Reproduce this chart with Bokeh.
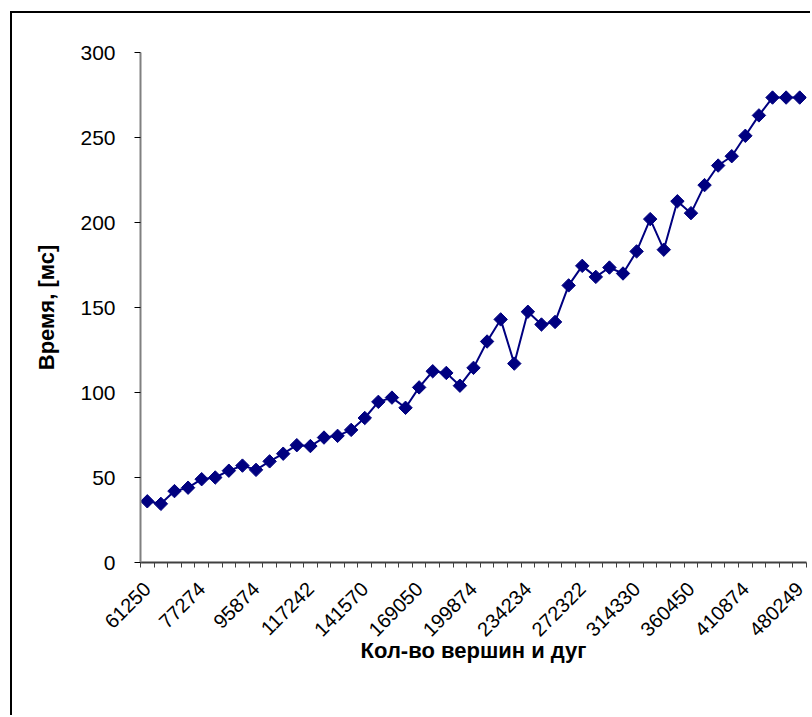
import math
from bokeh.plotting import figure
from bokeh.models import FixedTicker, Range1d, ColumnDataSource
from bokeh.embed import file_html
from bokeh.resources import INLINE

# x-axis tick labels (every 4th category is labelled)
tick_labels = ["61250", "77274", "95874", "117242", "141570", "169050", "199874",
               "234234", "272322", "314330", "360450", "410874", "480249"]
label_step = 4

# time, ms (49 measurements)
times = [36, 34.5, 42, 44, 49, 50, 54, 57, 54.5, 59.5,
         64, 69, 68.5, 73.5, 74.5, 78, 85, 94.5, 97, 91,
         103, 112.5, 111.5, 104, 114.5, 130, 143, 117, 147.5, 140,
         141.5, 163, 174.5, 168, 173.5, 170, 183, 202, 184, 212.5,
         205.5, 222, 233.5, 239, 251, 263, 273.5, 273.5, 273.5]

y_ticks = [0, 50, 100, 150, 200, 250, 300]

n = len(times)
idx = list(range(n))
src = ColumnDataSource(dict(x=idx, y=times))

FONT = "Liberation Sans"
NAVY = "#000080"

p = figure(width=800, height=704, output_backend="svg", toolbar_location=None,
           x_range=Range1d(-0.5, n - 0.5), y_range=Range1d(0, 300),
           min_border_left=128, min_border_right=6, min_border_top=39, min_border_bottom=155)
p.styles = {"margin-left": "10px", "margin-top": "11px",
            "border-left": "2px solid black", "border-top": "2px solid black"}
p.outline_line_color = None
p.xgrid.visible = False
p.ygrid.visible = False
p.background_fill_color = "white"
p.border_fill_color = "white"

p.line("x", "y", source=src, line_color=NAVY, line_width=2)
p.scatter("x", "y", source=src, marker="square", angle=math.pi / 4, size=9.5,
          fill_color=NAVY, line_color=NAVY)

# y axis
ya = p.yaxis[0]
ya.ticker = FixedTicker(ticks=y_ticks)
ya.axis_line_color = "#808080"
ya.axis_line_width = 2
ya.major_tick_line_color = "black"
ya.major_tick_out = 6
ya.major_tick_in = 0
ya.minor_tick_out = 0
ya.minor_tick_in = 0
ya.major_label_text_font = FONT
ya.major_label_text_font_size = "21px"
ya.major_label_text_color = "black"
ya.major_label_standoff = 19
ya.axis_label = "Время, [мс]"
ya.axis_label_text_font = FONT
ya.axis_label_text_font_size = "22px"
ya.axis_label_text_font_style = "bold"
ya.axis_label_text_color = "black"
ya.axis_label_standoff = 18

# x axis
xa = p.xaxis[0]
major = [i * label_step for i in range(len(tick_labels))]
xa.ticker = FixedTicker(ticks=major, minor_ticks=[i - 0.5 for i in range(n + 1)])
xa.major_label_overrides = {m: lab for m, lab in zip(major, tick_labels)}
xa.axis_line_color = "#404040"
xa.axis_line_width = 2
xa.major_tick_out = 0
xa.major_tick_in = 0
xa.minor_tick_out = 5
xa.minor_tick_in = 0
xa.minor_tick_line_color = "#404040"
xa.major_label_orientation = math.pi / 4
xa.major_label_text_font = FONT
xa.major_label_text_font_size = "20px"
xa.major_label_text_color = "black"
xa.major_label_standoff = 18
xa.axis_label = "Кол-во вершин и дуг"
xa.axis_label_text_font = FONT
xa.axis_label_text_font_size = "22px"
xa.axis_label_text_font_style = "bold"
xa.axis_label_text_color = "black"
xa.axis_label_standoff = -8

open("out.html", "w").write(file_html(p, INLINE))
